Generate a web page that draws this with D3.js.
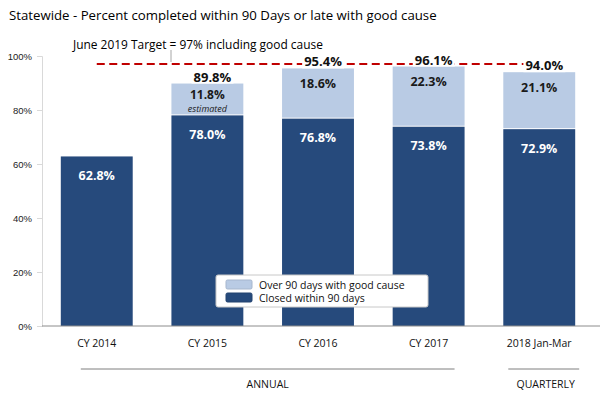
<!DOCTYPE html>
<html>
<head>
<meta charset="utf-8">
<script src="https://cdn.jsdelivr.net/npm/d3@7/dist/d3.min.js"></script>
<style>
  body { margin: 0; background: #fff; }
  svg { display: block; font-family: "Open Sans", "Noto Sans", sans-serif; }
</style>
</head>
<body>
<div id="chart"></div>
<script>
const categories = ['CY 2014', 'CY 2015', 'CY 2016', 'CY 2017', '2018 Jan-Mar'];
const closedWithin90 = [62.8, 78.0, 76.8, 73.8, 72.9];
const goodCause = [null, 11.8, 18.6, 22.3, 21.1];
const totals = [null, 89.8, 95.4, 96.1, 94.0];
const notes = [null, 'estimated', null, null, null];
const yTicks = [0, 20, 40, 60, 80, 100];
const target = 97;
const groups = [
  { label: 'ANNUAL', first: 'CY 2014', last: 'CY 2017' },
  { label: 'QUARTERLY', first: '2018 Jan-Mar', last: '2018 Jan-Mar' }
];

const W = 603, H = 399;
const dark = '#264a7c', light = '#b9cbe4', red = '#c00000';

const svg = d3.select('#chart').append('svg')
  .attr('width', W)
  .attr('height', H);

// shrink/grow font so text spans the wanted width
function fitWidth(sel, w) {
  const node = sel.node();
  const size = parseFloat(sel.attr('font-size'));
  const len = node.getComputedTextLength();
  if (len > 0) sel.attr('font-size', (size * w / len).toFixed(2));
}

const x = d3.scaleBand()
  .domain(categories)
  .range([42, 594])
  .paddingInner(0.35)
  .paddingOuter(0.17);

const y = d3.scaleLinear()
  .domain([0, 100])
  .range([326, 56]);

const rows = categories.map((c, i) => ({
  cat: c, closed: closedWithin90[i], cause: goodCause[i], total: totals[i], note: notes[i]
}));

// title
const title = svg.append('text')
  .attr('x', 9).attr('y', 15)
  .attr('dominant-baseline', 'central')
  .attr('font-size', 14)
  .attr('fill', '#000')
  .text('Statewide - Percent completed within 90 Days or late with good cause');
fitWidth(title, 428);

// y axis
const yAxis = svg.append('g')
  .attr('transform', 'translate(42,0)')
  .call(d3.axisLeft(y).tickValues(yTicks).tickSize(5).tickPadding(5).tickFormat(d => d + '%'));
yAxis.select('.domain').attr('stroke', '#d9d9d9');
yAxis.selectAll('.tick line').attr('stroke', '#d9d9d9');
yAxis.selectAll('.tick text')
  .attr('font-family', '"Liberation Sans", Arial, sans-serif')
  .attr('font-size', 9.5)
  .attr('fill', '#222');

// bars
const bars = svg.append('g');
bars.selectAll('rect.closed')
  .data(rows)
  .join('rect')
  .attr('class', 'closed')
  .attr('x', d => x(d.cat))
  .attr('width', x.bandwidth())
  .attr('y', d => y(d.closed))
  .attr('height', d => y(0) - y(d.closed))
  .attr('fill', dark);

bars.selectAll('rect.cause')
  .data(rows.filter(d => d.cause != null))
  .join('rect')
  .attr('class', 'cause')
  .attr('x', d => x(d.cat))
  .attr('width', x.bandwidth())
  .attr('y', d => y(d.closed + d.cause))
  .attr('height', d => y(d.closed) - y(d.closed + d.cause) - 1)
  .attr('fill', light);

// x axis line
svg.append('line')
  .attr('x1', 42).attr('x2', 600)
  .attr('y1', y(0)).attr('y2', y(0))
  .attr('stroke', '#8c8c8c');

svg.append('g').selectAll('text')
  .data(categories)
  .join('text')
  .attr('x', d => x(d) + x.bandwidth() / 2)
  .attr('y', 343)
  .attr('text-anchor', 'middle')
  .attr('dominant-baseline', 'central')
  .attr('font-size', 10.5)
  .attr('fill', '#111')
  .text(d => d);

// group brackets
const gb = svg.append('g');
groups.forEach((g, i) => {
  const x1 = x(g.first) + (i === 0 ? 20 : 5);
  const x2 = x(g.last) + x.bandwidth() + (i === 0 ? -10 : 4);
  gb.append('line')
    .attr('x1', x1).attr('x2', x2)
    .attr('y1', 369).attr('y2', 369)
    .attr('stroke', '#7f7f7f');
  gb.append('text')
    .attr('x', i === 0 ? (x1 + x2) / 2 : (x1 + x2) / 2 + 2)
    .attr('y', 384)
    .attr('text-anchor', 'middle')
    .attr('dominant-baseline', 'central')
    .attr('font-size', 10.5)
    .attr('fill', '#111')
    .text(g.label);
});

// target line
svg.append('line')
  .attr('x1', x(categories[0]) + x.bandwidth() / 2)
  .attr('x2', x(categories[4]) + x.bandwidth() / 2 + 20)
  .attr('y1', y(target)).attr('y2', y(target))
  .attr('stroke', red)
  .attr('stroke-width', 2)
  .attr('stroke-dasharray', '8,4.5');

// callout
const callout = svg.append('text')
  .attr('x', 73).attr('y', 44)
  .attr('dominant-baseline', 'central')
  .attr('font-size', 13)
  .attr('fill', '#000')
  .text('June 2019 Target = 97% including good cause');
fitWidth(callout, 250);
svg.append('line')
  .attr('x1', 171).attr('x2', 171)
  .attr('y1', 50).attr('y2', 62)
  .attr('stroke', '#a6a6a6');

// labels in dark segments
svg.append('g').selectAll('text')
  .data(rows)
  .join('text')
  .attr('x', d => x(d.cat) + x.bandwidth() / 2)
  .attr('y', d => y(d.closed) + 19)
  .attr('text-anchor', 'middle')
  .attr('dominant-baseline', 'central')
  .attr('font-size', 12.5)
  .attr('font-weight', 'bold')
  .attr('fill', '#fff')
  .text(d => d.closed.toFixed(1) + '%');

// labels in light segments
const causeRows = rows.filter(d => d.cause != null);
svg.append('g').selectAll('text')
  .data(causeRows)
  .join('text')
  .attr('x', d => x(d.cat) + x.bandwidth() / 2)
  .attr('y', d => y(d.total) + (d.note ? 10.5 : 15))
  .attr('text-anchor', 'middle')
  .attr('dominant-baseline', 'central')
  .attr('font-size', d => d.note ? 12 : 12.5)
  .attr('font-weight', 'bold')
  .attr('fill', '#1a1a1a')
  .text(d => d.cause.toFixed(1) + '%');

svg.append('g').selectAll('text')
  .data(causeRows.filter(d => d.note))
  .join('text')
  .attr('x', d => x(d.cat) + x.bandwidth() / 2)
  .attr('y', d => y(d.total) + 25)
  .attr('text-anchor', 'middle')
  .attr('dominant-baseline', 'central')
  .attr('font-size', 9)
  .attr('font-style', 'italic')
  .attr('fill', '#1a1a1a')
  .text(d => d.note);

// totals above bars, on white so the target dashes break
const tot = svg.append('g').selectAll('g')
  .data(causeRows)
  .join('g')
  .attr('transform', d => `translate(${x(d.cat) + x.bandwidth() / 2 + 5},${y(d.total) - 7})`);
tot.append('rect').attr('fill', '#fff');
tot.append('text')
  .attr('text-anchor', 'middle')
  .attr('dominant-baseline', 'central')
  .attr('font-size', 13)
  .attr('font-weight', 'bold')
  .attr('fill', '#111')
  .text(d => d.total.toFixed(1) + '%');
tot.each(function () {
  const t = d3.select(this).select('text').node().getBBox();
  d3.select(this).select('rect')
    .attr('x', t.x - 2).attr('y', t.y + 2)
    .attr('width', t.width + 4).attr('height', t.height - 4);
});

// legend
const lg = svg.append('g').attr('transform', 'translate(216,275)');
lg.append('rect')
  .attr('width', 212).attr('height', 32)
  .attr('rx', 2)
  .attr('fill', '#fff')
  .attr('stroke', '#c8c8c8');
const legendItems = [
  { label: 'Over 90 days with good cause', color: light },
  { label: 'Closed within 90 days', color: dark }
];
legendItems.forEach((it, i) => {
  lg.append('rect')
    .attr('x', 10).attr('y', 5 + i * 13)
    .attr('width', 26).attr('height', 9)
    .attr('rx', 1.5)
    .attr('fill', it.color)
    .attr('stroke', d3.color(it.color).darker(0.3));
  lg.append('text')
    .attr('x', 43).attr('y', 10 + i * 13)
    .attr('dominant-baseline', 'central')
    .attr('font-size', 10.5)
    .attr('fill', '#111')
    .text(it.label);
});
</script>
</body>
</html>
